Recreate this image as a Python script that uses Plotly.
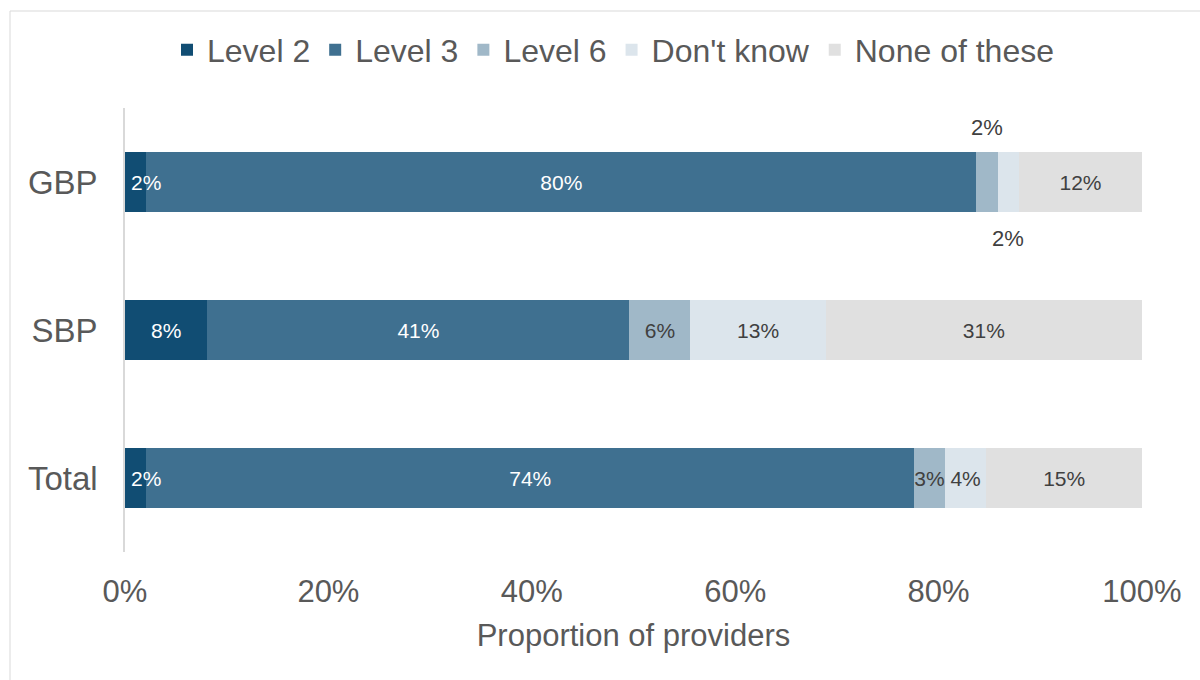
import plotly.graph_objects as go

categories = ["GBP", "SBP", "Total"]
series_names = ["Level 2", "Level 3", "Level 6", "Don't know", "None of these"]
level2 = [2.1, 8.1, 2.1]
level3 = [81.6, 41.5, 75.5]
level6 = [2.1, 6.0, 3.0]
dont_know = [2.1, 13.3, 4.1]
none_of_these = [12.1, 31.1, 15.3]
labels_level2 = ["", "8%", ""]
labels_level3 = ["80%", "41%", "74%"]
labels_level6 = ["", "6%", "3%"]
labels_dont_know = ["", "13%", "4%"]
labels_none = ["12%", "31%", "15%"]
# labels placed next to tiny segments: (category, series, text, x shift px, y shift px)
shifted_labels = [
    ("GBP", "Level 6", "2%", 0, 55, "#404040", 22),
    ("GBP", "Don't know", "2%", 0, -56, "#404040", 22),
    ("GBP", "Level 2", "2%", 10, 0, "#FFFFFF", 21),
    ("Total", "Level 2", "2%", 10, 0, "#FFFFFF", 21),
]

values = [level2, level3, level6, dont_know, none_of_these]
labels = [labels_level2, labels_level3, labels_level6, labels_dont_know, labels_none]
colors = ["#114D73", "#3F7090", "#A0B8C8", "#DCE5EC", "#E0E0E0"]
text_colors = ["#FFFFFF", "#FFFFFF", "#404040", "#404040", "#404040"]

FONT = "Liberation Sans, Arial, sans-serif"

fig = go.Figure()
for name, vals, labs, col, tcol in zip(series_names, values, labels, colors, text_colors):
    fig.add_trace(go.Bar(
        y=categories, x=vals, name=name, orientation="h",
        marker=dict(color=col, line=dict(width=0)),
        text=labs, textposition="inside", insidetextanchor="middle",
        textangle=0, constraintext="none", cliponaxis=False,
        textfont=dict(family=FONT, size=21, color=tcol),
        hoverinfo="skip",
    ))

for cat, series, text, xs, ys, tcol, fs in shifted_labels:
    ci = categories.index(cat)
    si = series_names.index(series)
    start = sum(values[k][ci] for k in range(si))
    center = start + values[si][ci] / 2
    fig.add_annotation(x=center, y=cat, text=text, showarrow=False,
                       xshift=xs, yshift=ys,
                       font=dict(family=FONT, size=fs, color=tcol))

# chart frame
fig.add_shape(type="rect", xref="paper", yref="paper",
              x0=(10 - 125) / 1017, x1=1.2, y0=-0.5, y1=1 + (108 - 11) / 444,
              line=dict(color="#D9D9D9", width=1), fillcolor="rgba(0,0,0,0)", layer="below")

fig.update_layout(
    width=1200, height=680,
    margin=dict(l=125, r=58, t=108, b=128),
    barmode="stack", bargap=0.6,
    plot_bgcolor="white", paper_bgcolor="white",
    font=dict(family=FONT, color="#595959"),
    legend=dict(orientation="h", x=(613 - 125) / 1017, xanchor="center",
                y=1 + (108 - 50) / 444, yanchor="middle",
                font=dict(family=FONT, size=32, color="#595959"),
                itemwidth=30, traceorder="normal"),
    showlegend=True,
)
fig.update_xaxes(range=[0, 100], tickvals=[0, 20, 40, 60, 80, 100],
                 ticktext=["0%", "20%", "40%", "60%", "80%", "100%"],
                 showgrid=False, zeroline=False, showline=False, ticks="",
                 tickfont=dict(family=FONT, size=31, color="#595959"),
                 ticklabelstandoff=18,
                 title=dict(text="Proportion of providers", standoff=16,
                            font=dict(family=FONT, size=31, color="#595959")))
fig.update_yaxes(autorange="reversed", showgrid=False, zeroline=False,
                 showline=True, linecolor="#D9D9D9", linewidth=1.5, ticks="",
                 tickfont=dict(family=FONT, size=33, color="#595959"),
                 ticklabelstandoff=19)

fig.write_html("out.html", config={"displayModeBar": False},
               post_script="document.body.style.margin='0px';")
